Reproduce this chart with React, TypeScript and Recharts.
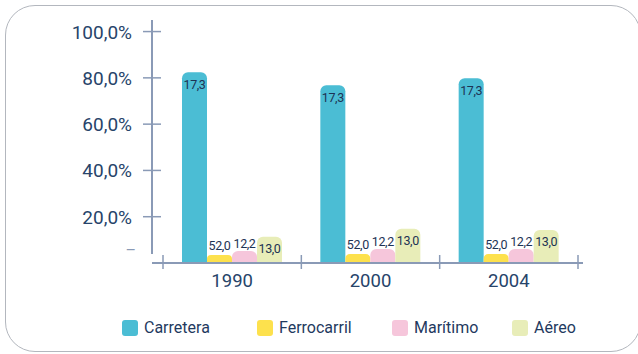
import React from "react";
import { BarChart, Bar, XAxis, YAxis, LabelList } from "recharts";

const years = ["1990", "2000", "2004"];
const carretera = [82.4, 76.8, 79.8];
const ferrocarril = [3.5, 3.9, 3.9];
const maritimo = [5.2, 6.1, 6.1];
const aereo = [11.3, 14.8, 14.3];

// etiquetas tal cual aparecen en el gráfico original
const carreteraLabels = ["17,3", "17,3", "17,3"];
const ferrocarrilLabels = ["52,0", "52,0", "52,0"];
const maritimoLabels = ["12,2", "12,2", "12,2"];
const aereoLabels = ["13,0", "13,0", "13,0"];

const yTicks = [0, 20, 40, 60, 80, 100];

const series = [
  { key: "carretera", name: "Carretera", color: "#4bbdd4", label: "carreteraLabel", pos: "insideTop", off: 8 },
  { key: "ferrocarril", name: "Ferrocarril", color: "#fde14d", label: "ferrocarrilLabel", pos: "top", off: 5 },
  { key: "maritimo", name: "Marítimo", color: "#f6c6db", label: "maritimoLabel", pos: "top", off: 3 },
  { key: "aereo", name: "Aéreo", color: "#e8edb8", label: "aereoLabel", pos: "insideTop", off: 7 },
];

const data = years.map((y, i) => ({
  year: y,
  carretera: carretera[i],
  ferrocarril: ferrocarril[i],
  maritimo: maritimo[i],
  aereo: aereo[i],
  carreteraLabel: carreteraLabels[i],
  ferrocarrilLabel: ferrocarrilLabels[i],
  maritimoLabel: maritimoLabels[i],
  aereoLabel: aereoLabels[i],
}));

const W = 638;
const H = 354;
const MARGIN = { top: 20, right: 55, bottom: 61, left: 0 };
const XAXIS_H = 30;
const PLOT_H = H - MARGIN.top - MARGIN.bottom - XAXIS_H;

const AXIS = "#8a9ab6";
const TEXT = "#27446a";
const FONT = "Roboto, sans-serif";

const YTick = ({ x, y, payload }: any) => {
  if (payload.value === 0) {
    return (
      <g>
        <line x1={x} x2={x} y1={y - 9} y2={y - PLOT_H} stroke={AXIS} strokeWidth={2} />
        <text x={x - 16} y={y - 7} textAnchor="end" fill={AXIS} fontSize={16} fontFamily={FONT}>
          –
        </text>
      </g>
    );
  }
  return (
    <g>
      <line x1={x - 9} x2={x + 9} y1={y} y2={y} stroke={AXIS} strokeWidth={1.5} />
      <text x={x - 20} y={y + 7} textAnchor="end" fill={TEXT} fontSize={19} fontFamily={FONT}>
        {`${payload.value},0%`}
      </text>
    </g>
  );
};

const XTick = ({ x, y, payload, index }: any) => {
  const half = payload.offset || 69;
  return (
    <g>
      <line x1={x - half} x2={x - half} y1={y - 8} y2={y + 6} stroke={AXIS} strokeWidth={1.5} />
      {index === years.length - 1 && (
        <line x1={x + half} x2={x + half} y1={y - 8} y2={y + 6} stroke={AXIS} strokeWidth={1.5} />
      )}
      <text x={x} y={y + 24} textAnchor="middle" fill={TEXT} fontSize={18.5} fontFamily={FONT}>
        {payload.value}
      </text>
    </g>
  );
};

const legendWidths = [135, 135, 120, 100];

export default function App() {
  return (
    <div
      style={{
        position: "absolute",
        left: 0,
        top: 0,
        width: W,
        height: H,
        overflow: "hidden",
        background: "#fff",
      }}
    >
      <div
        style={{
          position: "absolute",
          left: 5,
          top: 5,
          width: 636,
          height: 347,
          boxSizing: "border-box",
          border: "1.5px solid #b3b7be",
          borderRadius: 30,
        }}
      />
      <div style={{ position: "absolute", left: 0, top: 0 }}>
        <BarChart
          width={W}
          height={H}
          data={data}
          margin={MARGIN}
          barCategoryGap="14%"
          barGap={0}
        >
          <XAxis
            dataKey="year"
            height={XAXIS_H}
            padding={{ left: 11, right: 5 }}
            axisLine={{ stroke: AXIS, strokeWidth: 2 }}
            tickLine={false}
            tickSize={0}
            tickMargin={0}
            tick={<XTick />}
            interval={0}
          />
          <YAxis
            width={152}
            domain={[0, 105]}
            ticks={yTicks}
            allowDataOverflow
            axisLine={false}
            tickLine={false}
            tickSize={0}
            tickMargin={0}
            tick={<YTick />}
          />
          {series.map((s) => (
            <Bar
              key={s.key}
              dataKey={s.key}
              name={s.name}
              fill={s.color}
              barSize={25}
              radius={[6, 6, 0, 0]}
              isAnimationActive={false}
            >
              <LabelList
                dataKey={s.label}
                position={s.pos as any}
                offset={s.off}
                fill="#1d3354"
                fontSize={12.5}
                fontFamily={FONT}
                style={{ letterSpacing: "-0.4px" }}
              />
            </Bar>
          ))}
        </BarChart>
      </div>
      <div
        style={{
          position: "absolute",
          left: 122,
          top: 318,
          display: "flex",
          fontFamily: FONT,
          fontSize: 16,
          color: "#1f3a60",
        }}
      >
        {series.map((s, i) => (
          <div
            key={s.key}
            style={{ width: legendWidths[i], display: "flex", alignItems: "center" }}
          >
            <span
              style={{
                display: "inline-block",
                width: 16,
                height: 16,
                borderRadius: 3,
                background: s.color,
                marginRight: 6,
              }}
            />
            <span>{s.name}</span>
          </div>
        ))}
      </div>
    </div>
  );
}
